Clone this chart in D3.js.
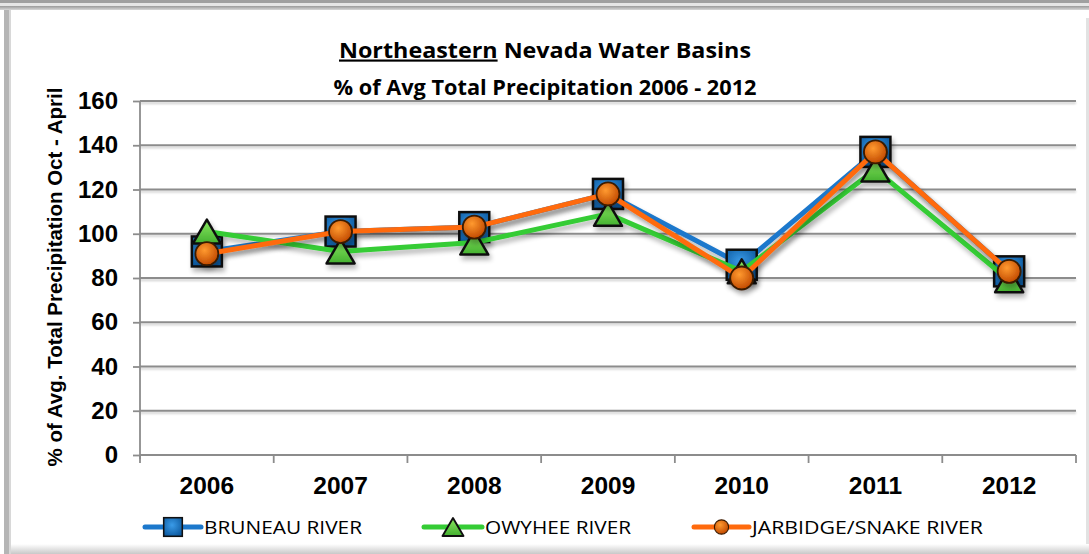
<!DOCTYPE html>
<html>
<head>
<meta charset="utf-8">
<script src="https://cdn.jsdelivr.net/npm/d3@7"></script>
<style>
  html, body { margin: 0; padding: 0; background: #ffffff; }
  svg { display: block; }
</style>
</head>
<body>
<svg id="chart" width="1089" height="554"></svg>
<script>
// Water years shown on the x axis
const years = ["2006", "2007", "2008", "2009", "2010", "2011", "2012"];
// Percent of average Oct–April precipitation, per basin
const bruneau = [92, 101, 103, 118, 86, 137, 83];
const owyhee = [101, 92, 96, 109, 83, 129, 79];
const jarbidge = [91, 101, 103, 118, 80, 137, 83];
// Y axis ticks
const yTicks = [0, 20, 40, 60, 80, 100, 120, 140, 160];

const seriesNames = ["BRUNEAU RIVER", "OWYHEE RIVER", "JARBIDGE/SNAKE RIVER"];
const seriesValues = [bruneau, owyhee, jarbidge];
const seriesColors = ["#1c78cc", "#35cc35", "#ff6a0d"];
const seriesShapes = ["square", "triangle", "circle"];

const svg = d3.select("#chart");
const W = 1089, H = 554;
const ARIAL = "Liberation Sans, Arial, sans-serif";
const BODY = "Open Sans, sans-serif";

const defs = svg.append("defs");
// soft drop shadow for lines and markers
const sh = defs.append("filter").attr("id", "shadow").attr("x", "-20%").attr("y", "-20%").attr("width", "140%").attr("height", "160%");
sh.append("feGaussianBlur").attr("in", "SourceAlpha").attr("stdDeviation", 2.5);
sh.append("feOffset").attr("dx", 2).attr("dy", 4).attr("result", "b");
sh.append("feComponentTransfer").append("feFuncA").attr("type", "linear").attr("slope", 0.3);
const m = sh.append("feMerge"); m.append("feMergeNode"); m.append("feMergeNode").attr("in", "SourceGraphic");

const gs = defs.append("filter").attr("id", "gshadow").attr("x", "-5%").attr("y", "-100%").attr("width", "110%").attr("height", "400%");
gs.append("feGaussianBlur").attr("in", "SourceAlpha").attr("stdDeviation", 1);
gs.append("feOffset").attr("dx", 0).attr("dy", 2).attr("result", "b");
gs.append("feComponentTransfer").append("feFuncA").attr("type", "linear").attr("slope", 0.2);
const gm = gs.append("feMerge"); gm.append("feMergeNode"); gm.append("feMergeNode").attr("in", "SourceGraphic");

// marker fills
const sqGrad = defs.append("radialGradient").attr("id", "sqGrad").attr("cx", "45%").attr("cy", "40%").attr("r", "65%");
sqGrad.append("stop").attr("offset", "0%").attr("stop-color", "#3a9be8");
sqGrad.append("stop").attr("offset", "100%").attr("stop-color", "#0d5aa0");
const trGrad = defs.append("linearGradient").attr("id", "trGrad").attr("x1", 0).attr("y1", 0).attr("x2", 0).attr("y2", 1);
trGrad.append("stop").attr("offset", "0%").attr("stop-color", "#8ae860");
trGrad.append("stop").attr("offset", "100%").attr("stop-color", "#44b030");
const ciGrad = defs.append("radialGradient").attr("id", "ciGrad").attr("cx", "40%").attr("cy", "35%").attr("r", "65%");
ciGrad.append("stop").attr("offset", "0%").attr("stop-color", "#ff9a30");
ciGrad.append("stop").attr("offset", "100%").attr("stop-color", "#c24a00");
const fills = ["url(#sqGrad)", "url(#trGrad)", "url(#ciGrad)"];

// frame
const frameGrad = defs.append("linearGradient").attr("id", "frameTop").attr("x1", 0).attr("y1", 0).attr("x2", 0).attr("y2", 1);
frameGrad.append("stop").attr("offset", "0%").attr("stop-color", "#9a9a9a");
frameGrad.append("stop").attr("offset", "100%").attr("stop-color", "#d8d8d8");
svg.append("rect").attr("x", 0).attr("y", 0).attr("width", W).attr("height", 3).attr("fill", "#a0a0a0");
svg.append("rect").attr("x", 0).attr("y", 3).attr("width", W).attr("height", 3).attr("fill", "#e6e6e6");
svg.append("rect").attr("x", 0).attr("y", 6).attr("width", W).attr("height", 4).attr("fill", "url(#frameTop)");
svg.append("rect").attr("x", 4).attr("y", 10).attr("width", 5).attr("height", H - 10).attr("fill", "#b5b5b5");
svg.append("rect").attr("x", 9).attr("y", 10).attr("width", 2).attr("height", H - 10).attr("fill", "#d8d8d8");
svg.append("rect").attr("x", 1086).attr("y", 18).attr("width", 3).attr("height", H - 18).attr("fill", "#e2e2e2");
const botGrad = defs.append("linearGradient").attr("id", "frameBot").attr("x1", 0).attr("y1", 0).attr("x2", 0).attr("y2", 1);
botGrad.append("stop").attr("offset", "0%").attr("stop-color", "#ffffff");
botGrad.append("stop").attr("offset", "100%").attr("stop-color", "#c8c8c8");
svg.append("rect").attr("x", 11).attr("y", 544).attr("width", W - 11).attr("height", 10).attr("fill", "url(#frameBot)");

// scales
const x = d3.scaleBand().domain(years).range([140, 1076]);
const y = d3.scaleLinear().domain([0, 160]).range([455, 101]);
const cx = d => x(d) + x.bandwidth() / 2;

// gridlines
svg.append("g").attr("filter", "url(#gshadow)")
  .selectAll("line").data(yTicks.filter(t => t > 0)).join("line")
  .attr("x1", 140).attr("x2", 1076)
  .attr("y1", d => y(d)).attr("y2", d => y(d))
  .attr("stroke", "#8c8c8c").attr("stroke-width", 1.8);

// y axis
const yAxis = svg.append("g").attr("transform", "translate(140,0)")
  .call(d3.axisLeft(y).tickValues(yTicks).tickSize(7).tickPadding(15));
yAxis.select(".domain").attr("stroke", "#8c8c8c").attr("stroke-width", 1.8).attr("d", "M0,101V459");
yAxis.selectAll(".tick line").attr("stroke", "#8c8c8c").attr("stroke-width", 1.8);
yAxis.selectAll("text").attr("font-family", ARIAL)
  .attr("font-weight", "bold").attr("font-size", 24).attr("fill", "#000");

// x axis
const xAxis = svg.append("g").attr("transform", "translate(0,455)")
  .call(d3.axisBottom(x).tickSize(0).tickPadding(22));
xAxis.select(".domain").remove();
svg.append("line").attr("x1", 140).attr("x2", 1076).attr("y1", 455).attr("y2", 455)
  .attr("stroke", "#8c8c8c").attr("stroke-width", 1.8);
const bounds = years.map(d => x(d)).concat([1076]);
svg.append("g").selectAll("line").data(bounds).join("line")
  .attr("x1", d => d).attr("x2", d => d).attr("y1", 455).attr("y2", 463)
  .attr("stroke", "#8c8c8c").attr("stroke-width", 1.8);
xAxis.selectAll("text").attr("font-family", ARIAL)
  .attr("font-weight", "bold").attr("font-size", 24.5).attr("fill", "#000");

// y axis title
svg.append("text")
  .attr("transform", "translate(62,277) rotate(-90)")
  .attr("text-anchor", "middle")
  .attr("font-family", ARIAL)
  .attr("font-weight", "bold").attr("font-size", 20.5)
  .text("% of Avg. Total Precipitation Oct - April");

// title
const title = svg.append("text").attr("x", 545).attr("y", 57.5).attr("text-anchor", "middle")
  .attr("font-family", BODY).attr("font-weight", "bold").attr("font-size", 21.5)
  .attr("textLength", 412).attr("lengthAdjust", "spacingAndGlyphs");
title.append("tspan").attr("text-decoration", "underline").text("Northeastern");
title.append("tspan").text(" Nevada Water Basins");
svg.append("text").attr("x", 545).attr("y", 94.5).attr("text-anchor", "middle")
  .attr("font-family", BODY).attr("font-weight", "bold").attr("font-size", 21.5)
  .attr("textLength", 423).attr("lengthAdjust", "spacingAndGlyphs")
  .text("% of Avg Total Precipitation 2006 - 2012");

function drawMarker(g, shape, px, py, i, s) {
  if (shape === "square") {
    g.append("rect").attr("x", px - 15 * s).attr("y", py - 15 * s).attr("width", 30 * s).attr("height", 30 * s)
      .attr("fill", fills[i]).attr("stroke", "#111").attr("stroke-width", 2.5 * s);
  } else if (shape === "triangle") {
    const w = 28 * s;
    g.append("path").attr("d", `M${px},${py - 12 * s}L${px + w / 2},${py + 12 * s}L${px - w / 2},${py + 12 * s}Z`)
      .attr("fill", fills[i]).attr("stroke", "#111").attr("stroke-width", 2.5 * s).attr("stroke-linejoin", "round");
  } else {
    g.append("circle").attr("cx", px).attr("cy", py).attr("r", 11.5 * s)
      .attr("fill", fills[i]).attr("stroke", "#3a1a00").attr("stroke-width", 1.8 * s);
  }
}

// series lines and markers
const line = d3.line().x((d, k) => cx(years[k])).y(d => y(d));
seriesValues.forEach((vals, i) => {
  const g = svg.append("g").attr("filter", "url(#shadow)");
  g.append("path").attr("d", line(vals)).attr("fill", "none")
    .attr("stroke", seriesColors[i]).attr("stroke-width", 5).attr("stroke-linejoin", "round");
  vals.forEach((v, k) => drawMarker(g, seriesShapes[i], cx(years[k]), y(v), i, 1));
});

// legend
const legendX = [145, 424, 694];
const legendW = [56, 58, 55];
const legendTextW = [158, 146, 231];
const legendScale = [0.62, 0.75, 0.62];
seriesNames.forEach((name, i) => {
  const g = svg.append("g");
  const x0 = legendX[i], yy = 527;
  g.append("line").attr("x1", x0).attr("x2", x0 + legendW[i]).attr("y1", yy).attr("y2", yy)
    .attr("stroke", seriesColors[i]).attr("stroke-width", 5).attr("stroke-linecap", "round");
  drawMarker(g, seriesShapes[i], x0 + legendW[i] / 2, yy, i, legendScale[i]);
  g.append("text").attr("x", x0 + legendW[i] + 3).attr("y", yy + 6.5)
    .attr("font-family", BODY).attr("font-size", 19).attr("fill", "#000")
    .attr("textLength", legendTextW[i]).attr("lengthAdjust", "spacingAndGlyphs")
    .text(name);
});
</script>
</body>
</html>
